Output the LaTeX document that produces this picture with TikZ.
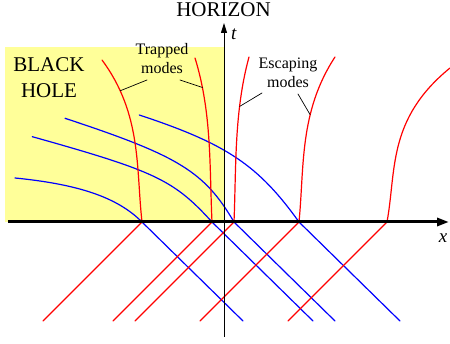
\documentclass[tikz,border=0pt]{standalone}
\usepackage{fontspec}
\setmainfont{Liberation Serif}
\usetikzlibrary{arrows.meta}
\definecolor{holeyellow}{RGB}{255,255,153}
\begin{document}
\begin{tikzpicture}[x=10pt, y=10pt, line join=round, line cap=round,
		inmode/.style={blue, line width=1.2pt},
		outmode/.style={red, line width=1.2pt},
		leader/.style={black, line width=.7pt},
		lbl/.style={align=center, font=\fontsize{16}{19}\selectfont},
		big/.style={align=center, font=\fontsize{21}{26}\selectfont}]
				\def\xmin{-21.6} \def\xmax{22.5}
				\def\ymin{-11.5} \def\ymax{19.9}
				\def\low{-9.9}
				\useasboundingbox (-22.4,-12.2) rectangle (22.6,22.2);
				\fill[holeyellow] (-21.9,0) rectangle (0,17.5);
				% ingoing modes
				\foreach \p in {-8.2,-1.2,1.0,7.5} \draw[inmode] (\p,0)--++(10.1,\low);
				\draw[inmode] (-20.9,4.4) .. controls (-14.45,3.76) and (-10.64,2.44) .. (-8.2,0)
					(-19.17,8.53) .. controls (-6.84,5.07) and (-5.04,4.22) .. (-1.2,0)
					(-15.9,10.37) .. controls (-4.51,6.61) and (-1.98,5.06) .. (1.0,0)
					(-8.47,10.7) .. controls (0.25,7.82) and (3.44,5.68) .. (7.5,0);
				% outgoing modes
				\foreach \p/\d/\h/\s [count=\i] in {-8.2/-4/16.2/.81, -1.2/-1.7/16.4/.82, 1.0/1.5/16.5/.70, 7.5/3.6/16.5/.65, 16.3/6.3/15.4/.5}
					\draw[outmode] ({\p-9.9},\low)--(\p,0) .. controls ({\p+0.15*\d},{\h/3}) and (\p,{2*\h/3}) .. coordinate[pos=\s] (r\i) ({\p+\d},\h);
				% axes
				\draw[line width=3pt, line cap=butt, -{Triangle[length=12pt,width=8pt]}] (\xmin,0)--(\xmax,0);
				\draw[line width=.9pt, line cap=butt, -{Triangle[length=10pt,width=6pt]}] (0,\ymin)--(0,\ymax);
				\node[big] (horizon) at (-0.05,21.2) {HORIZON};
				\node (tlab) at (1.0,18.8) {\fontsize{19}{19}\selectfont\textit{t}};
				\node (xlab) at (21.9,-1.6) {\fontsize{19}{19}\selectfont\textit{x}};
				\node[big] (hole) at (-17.5,14.4) {BLACK\\HOLE};
				\node[lbl] (trapped) at (-6.2,16.3) {Trapped\\modes};
				\node[lbl] (escaping) at (6.4,14.95) {Escaping\\modes};
				\coordinate (tra) at (-7.7,14.2);
				\coordinate (trb) at (-4.4,14.2);
				\coordinate (esa) at (3.8,12.9);
				\coordinate (esb) at (7.4,12.8);
				\draw[leader] (tra)--(r1) (trb)--(r2) (esa)--(r3) (esb)--(r4);
			\end{tikzpicture}
\end{document}
